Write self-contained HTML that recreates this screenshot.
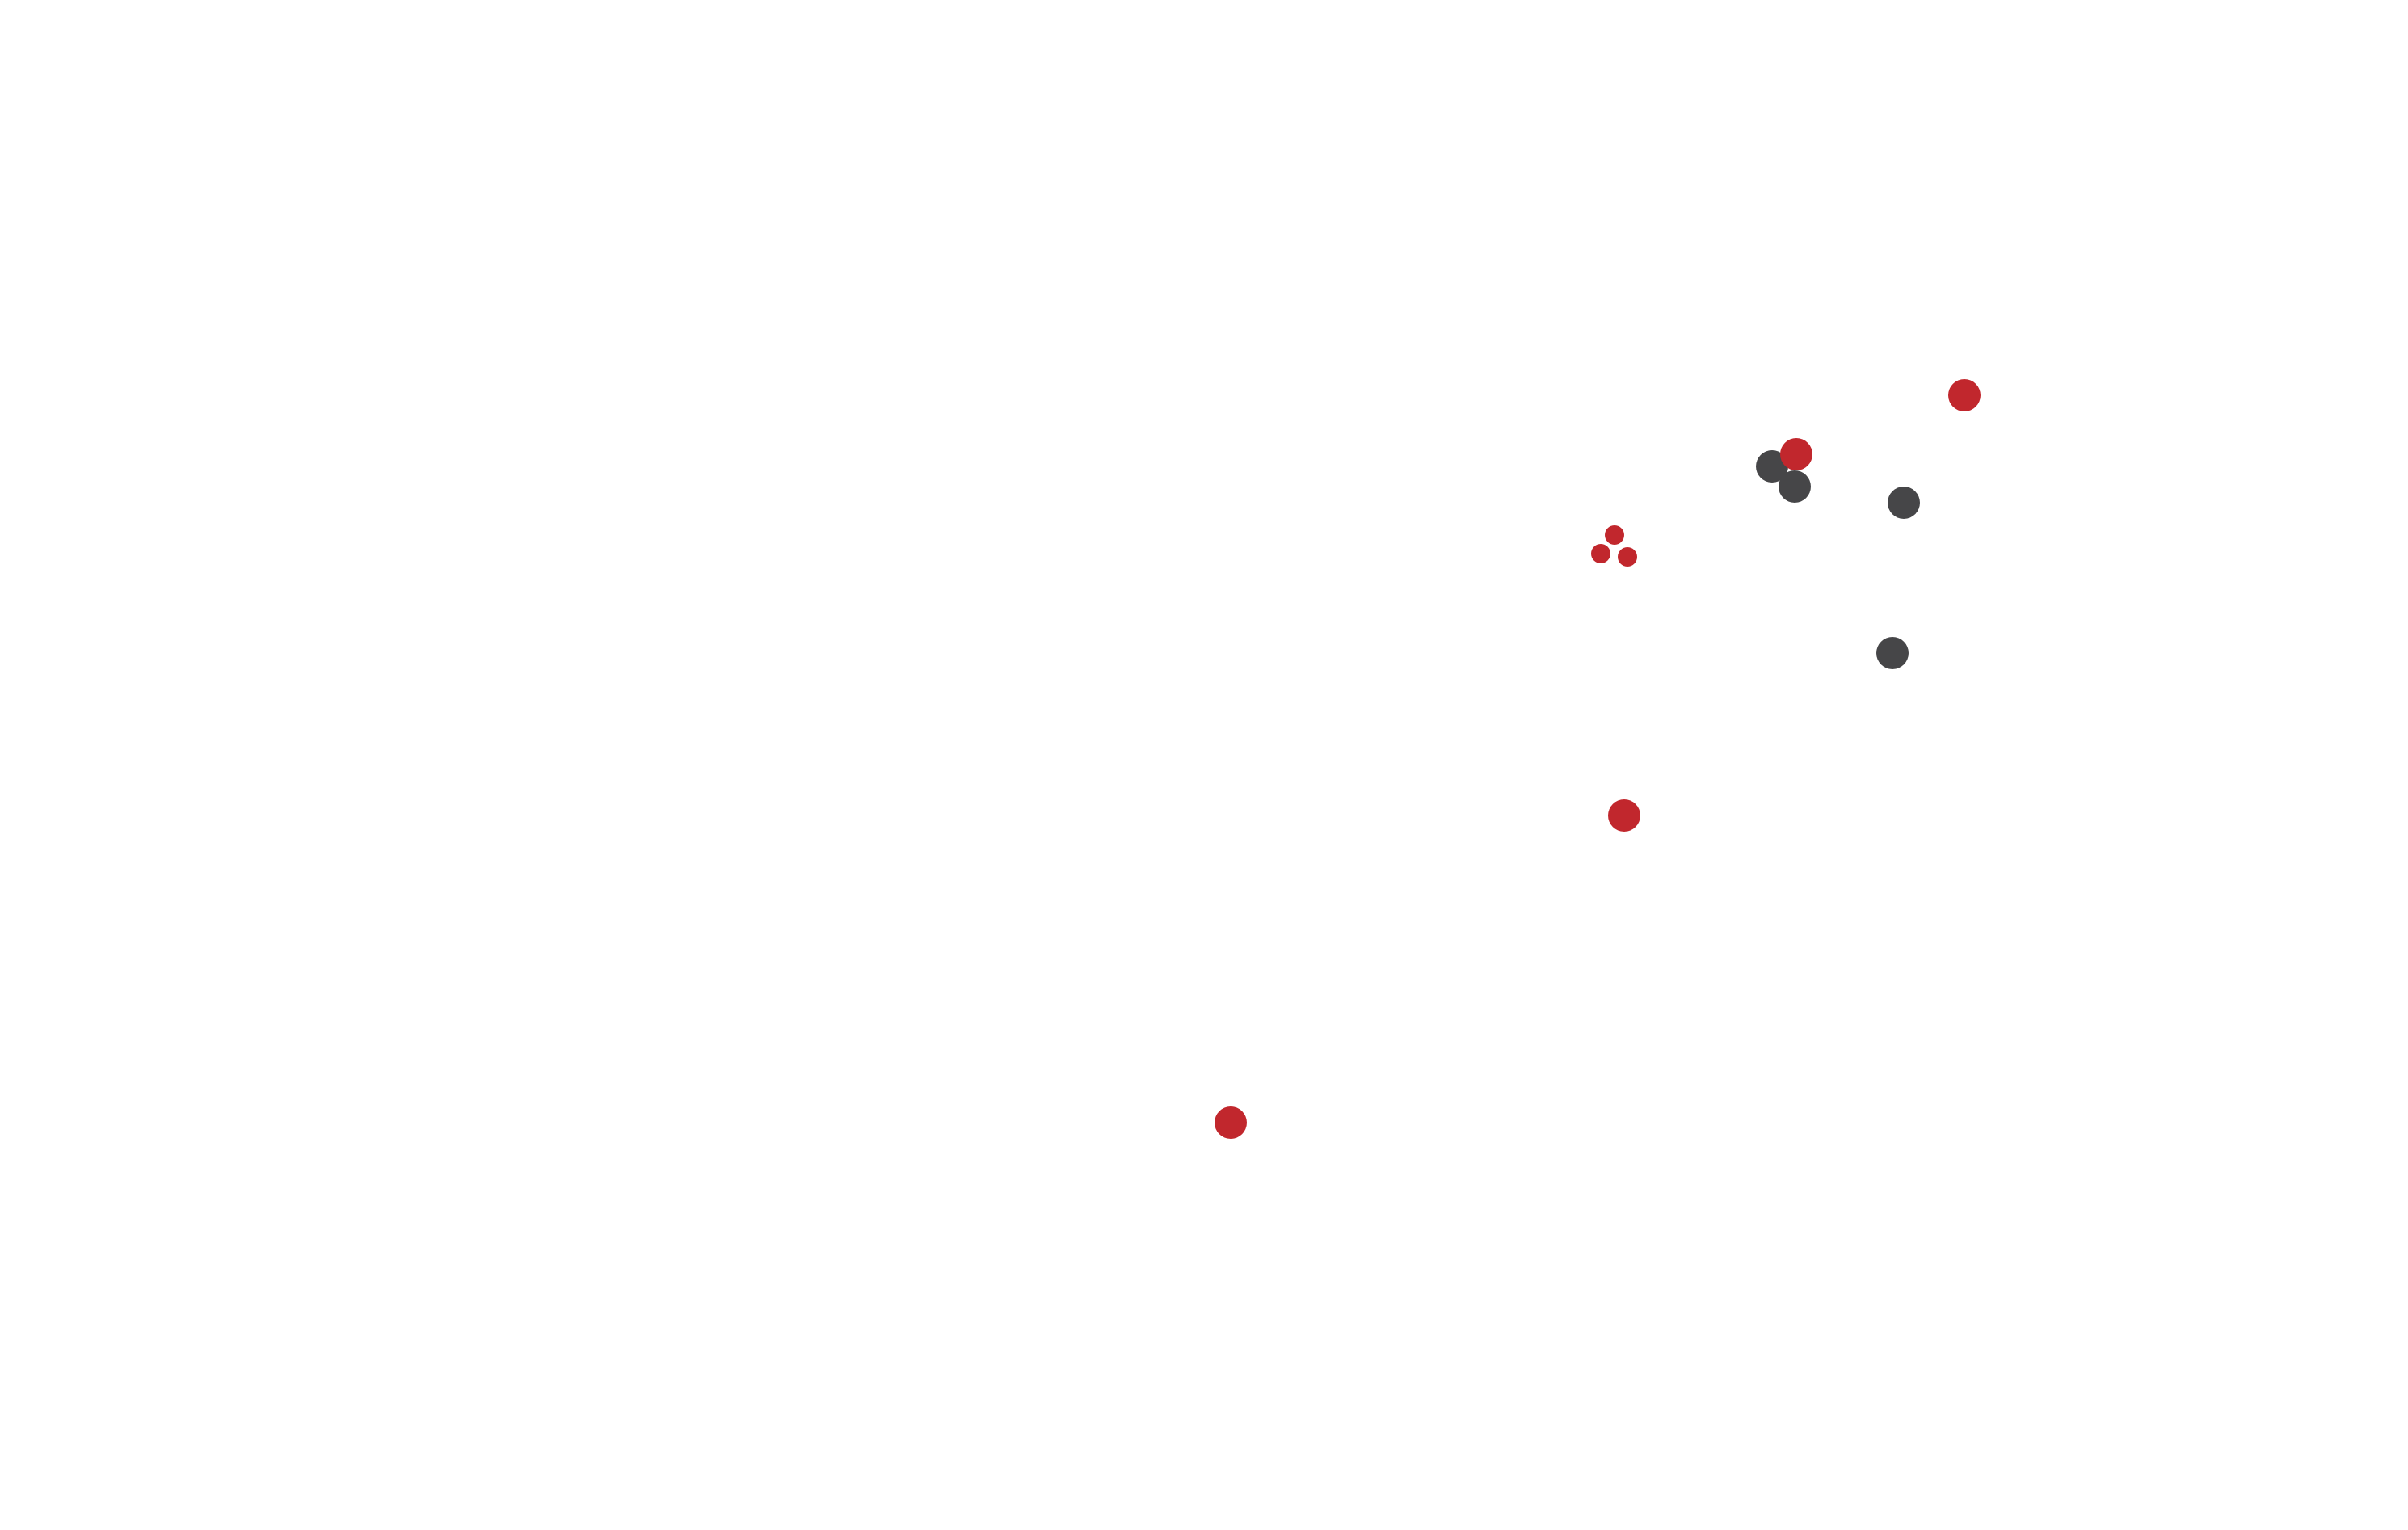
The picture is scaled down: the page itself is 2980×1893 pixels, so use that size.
<!DOCTYPE html>
<html><head><style>html,body{margin:0;padding:0;background:#fff;}svg{display:block}</style></head>
<body>
<svg width="2980" height="1893" viewBox="0 0 2980 1893" xmlns="http://www.w3.org/2000/svg">
<rect width="2980" height="1893" fill="#fff"/>
<g fill="#464648">
<circle cx="2193" cy="577" r="20"/>
<circle cx="2221" cy="602" r="20"/>
<circle cx="2356" cy="622" r="20"/>
<circle cx="2342" cy="808" r="20"/>
</g>
<g fill="#c1272d">
<circle cx="2431" cy="489" r="20"/>
<circle cx="2223" cy="562" r="20"/>
<circle cx="1998" cy="662" r="12"/>
<circle cx="1981" cy="685" r="12"/>
<circle cx="2014" cy="689" r="12"/>
<circle cx="2010" cy="1009" r="20"/>
<circle cx="1523" cy="1389" r="20"/>
</g>
</svg>
</body></html>
